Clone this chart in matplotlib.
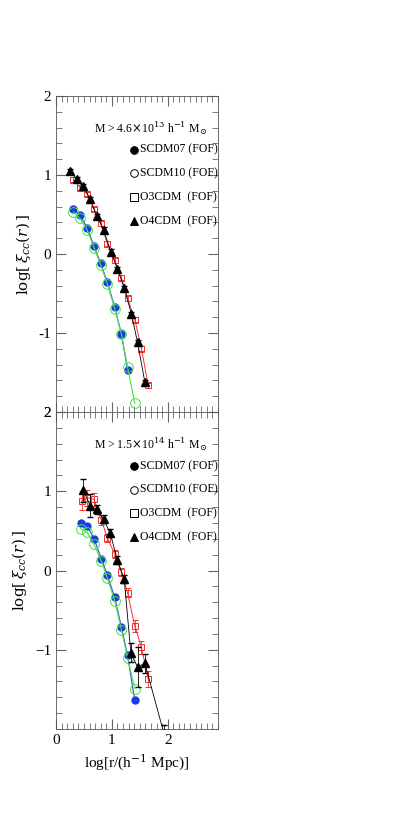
import matplotlib
matplotlib.use('Agg')
import matplotlib.pyplot as plt
from matplotlib.ticker import MultipleLocator

plt.rcParams['font.family'] = ['Liberation Serif', 'DejaVu Serif']
plt.rcParams['mathtext.fontset'] = 'dejavuserif'

# top panel: M > 4.6e13
t_sc07_x = [0.31, 0.43, 0.56, 0.68, 0.80, 0.92, 1.05, 1.17, 1.28]
t_sc07_y = [0.57, 0.49, 0.33, 0.10, -0.12, -0.36, -0.67, -1.01, -1.47]
t_sc10_x = [0.31, 0.43, 0.56, 0.68, 0.80, 0.92, 1.05, 1.17, 1.28, 1.41]
t_sc10_y = [0.53, 0.45, 0.30, 0.08, -0.14, -0.38, -0.69, -1.01, -1.43, -1.89]
t_o3_x = [0.31, 0.43, 0.56, 0.68, 0.80, 0.92, 1.05, 1.17, 1.28, 1.41, 1.53, 1.65]
t_o3_y = [0.94, 0.84, 0.76, 0.57, 0.39, 0.13, -0.08, -0.30, -0.56, -0.83, -1.20, -1.66]
t_o4_x = [0.25, 0.37, 0.49, 0.61, 0.73, 0.85, 0.98, 1.10, 1.22, 1.35, 1.46, 1.59]
t_o4_y = [1.05, 0.95, 0.86, 0.69, 0.48, 0.31, 0.03, -0.19, -0.43, -0.76, -1.12, -1.62]

# bottom panel: M > 1.5e14
b_sc07_x = [0.44, 0.56, 0.68, 0.81, 0.92, 1.05, 1.17, 1.28, 1.41]
b_sc07_y = [0.60, 0.56, 0.40, 0.15, -0.06, -0.34, -0.71, -1.07, -1.64]
b_sc10_x = [0.44, 0.56, 0.68, 0.81, 0.92, 1.05, 1.17, 1.28, 1.41]
b_sc10_y = [0.53, 0.48, 0.33, 0.12, -0.10, -0.38, -0.75, -1.10, -1.49]
b_o3_x = [0.46, 0.56, 0.68, 0.81, 0.92, 1.05, 1.17, 1.28, 1.41, 1.53, 1.65]
b_o3_y = [0.88, 0.92, 0.90, 0.64, 0.41, 0.21, -0.02, -0.28, -0.70, -0.97, -1.37]
b_o3_err = [0.12, 0.10, 0.08, 0.06, 0.05, 0.05, 0.05, 0.06, 0.08, 0.08, 0.10]
b_o4_x = [0.49, 0.61, 0.73, 0.85, 0.97, 1.10, 1.22, 1.34, 1.46, 1.59, 1.93]
b_o4_y = [1.01, 0.82, 0.77, 0.65, 0.47, 0.13, -0.11, -1.04, -1.22, -1.17, -2.05]
b_o4_err = [0.14, 0.15, 0.06, 0.05, 0.05, 0.05, 0.05, 0.12, 0.25, 0.12, 0.10]

fig = plt.figure(figsize=(4.09, 8.17), dpi=100)
ax1 = fig.add_axes([0.137, 0.4957, 0.396, 0.3868])
ax2 = fig.add_axes([0.137, 0.1077, 0.396, 0.388])


def draw(ax, sc07, sc10, o3, o4, o3e=None, o4e=None):
    ax.plot(*sc07, color='#3050e0', lw=0.8, marker='o', ms=5, mfc='#1a3ae8', mec='#1a3ae8', zorder=3)
    ax.plot(*sc10, color='#50e050', lw=0.8, marker='o', ms=7, mfc='none', mec='#40e040', mew=0.7, zorder=4)
    ax.errorbar(*o3, yerr=o3e if o3e else 0.03, color='#f03030', lw=0.7, marker='s', ms=5,
                mfc='none', mec='#f03030', mew=0.7, capsize=2, elinewidth=0.6, zorder=3)
    ax.errorbar(*o4, yerr=o4e if o4e else 0.03, color='black', lw=0.6, marker='^', ms=5.5,
                mfc='black', capsize=2, elinewidth=0.6, zorder=5)
    ax.set_xlim(0, 2.9)
    ax.set_ylim(-2, 2)
    ax.xaxis.set_major_locator(MultipleLocator(1))
    ax.xaxis.set_minor_locator(MultipleLocator(0.1))
    ax.yaxis.set_major_locator(MultipleLocator(1))
    ax.yaxis.set_minor_locator(MultipleLocator(0.2))
    ax.tick_params(which='both', direction='in', top=True, right=True, labelsize=11, color='#666666')
    ax.tick_params(which='major', length=7)
    ax.tick_params(which='minor', length=4)
    for s in ax.spines.values():
        s.set_linewidth(0.6)
        s.set_color('#555555')
    ax.set_ylabel(r'$\log[\,\xi_{cc}(r)\,]$', fontsize=11)


def legend(ax, mass):
    ax.text(0.93, 0.9, mass, transform=ax.transAxes, ha='right', va='center', fontsize=8.5)
    labels = ['SCDM07 (FOF)', 'SCDM10 (FOF)', 'O3CDM  (FOF)', 'O4CDM  (FOF)']
    marks = [('o', 'black', 'black'), ('o', 'none', 'black'), ('s', 'none', 'black'), ('^', 'black', 'black')]
    for i, (lab, (m, fc, ec)) in enumerate(zip(labels, marks)):
        y = 0.83 - i * 0.075
        ax.plot([0.48], [y], transform=ax.transAxes, marker=m, ms=5.5, mfc=fc, mec=ec, mew=0.7, ls='none')
        ax.text(0.52, y, lab, transform=ax.transAxes, ha='left', va='center', fontsize=8.5)


draw(ax1, (t_sc07_x, t_sc07_y), (t_sc10_x, t_sc10_y), (t_o3_x, t_o3_y), (t_o4_x, t_o4_y))
draw(ax2, (b_sc07_x, b_sc07_y), (b_sc10_x, b_sc10_y), (b_o3_x, b_o3_y), (b_o4_x, b_o4_y), b_o3_err, b_o4_err)
legend(ax1, r'M > 4.6$\times$10$^{13}$ h$^{-1}$ M$_{\odot}$')
legend(ax2, r'M > 1.5$\times$10$^{14}$ h$^{-1}$ M$_{\odot}$')

ax1.set_yticks([-2, -1, 0, 1, 2])
ax1.set_yticklabels(['2', '-1', '0', '1', '2'])
ax1.tick_params(labelbottom=False)
ax2.set_yticks([-1, 0, 1, 2])
ax2.set_xticks([0, 1, 2])
ax2.set_xlabel(r'log[r/(h$^{-1}$ Mpc)]', fontsize=11)

fig.savefig('out.png', dpi=100)
